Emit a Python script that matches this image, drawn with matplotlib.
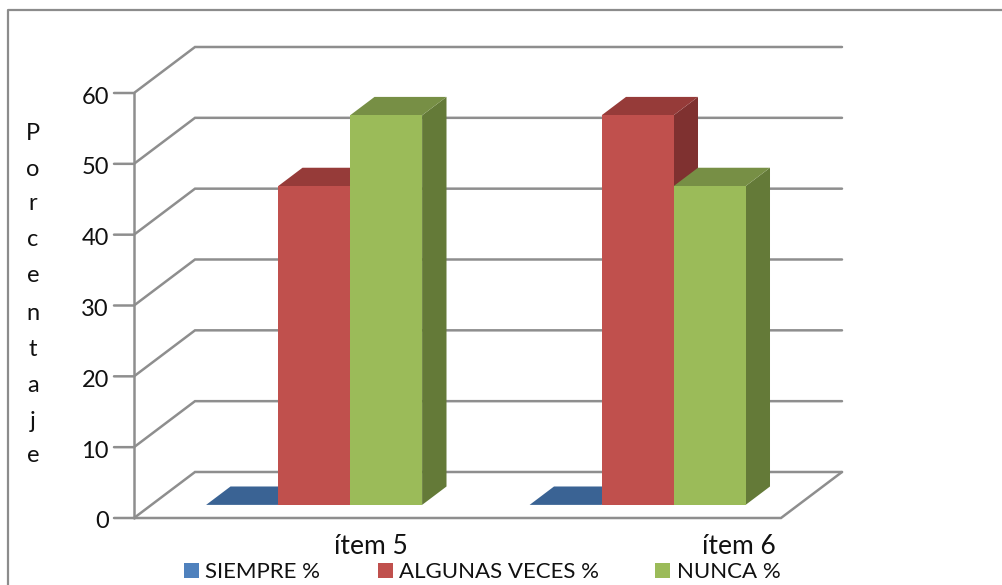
from matplotlib import pyplot as plt
from matplotlib.patches import Polygon, Rectangle

plt.rcParams['font.family'] = ['Lato', 'DejaVu Sans']

# Datos del grafico
items = ['ítem 5', 'ítem 6']
series = ['SIEMPRE %', 'ALGUNAS VECES %', 'NUNCA %']
siempre = [0, 0]
algunas = [45, 55]
nunca = [55, 45]
ticks = [0, 10, 20, 30, 40, 50, 60]
ylabel = 'Porcentaje'

valores = [siempre, algunas, nunca]
front = ['#4F81BD', '#C0504D', '#9BBB59']
top = ['#3A6394', '#963B39', '#778F45']
side = ['#325480', '#7F3130', '#647A38']
gris = '#8E8E8E'

W, H = 1003, 585
fig = plt.figure(figsize=(W / 100, H / 100), dpi=100)

# Marco exterior en pixeles
marco = fig.add_axes([0, 0, 1, 1])
marco.set_xlim(0, W)
marco.set_ylim(H, 0)
marco.axis('off')
marco.plot([8, 8, W], [H, 10, 10], color='#8C8C8C', lw=1.6)

ax = fig.add_axes([134 / W, (H - 518) / H, 647 / W, 425 / H])
ax.set_xlim(0, 2)
ax.set_ylim(0, 60)
ax.axis('off')

# Desplazamiento de la profundidad, en unidades de datos
DX = 61 / 323.5
DY = 46 / 7.083


def p(x, v, d=0):
    return (x + d * DX, v + d * DY)


def linea(pts, lw=1.6):
    ax.plot([q[0] for q in pts], [q[1] for q in pts], color=gris, lw=lw,
            clip_on=False, solid_capstyle='round', solid_joinstyle='miter', zorder=1)


# Paredes
for t in ticks:
    linea([(-20 / 323.5, t), p(0, t), p(0, t, 1), p(2, t, 1)], lw=1.8)
linea([p(0, 0), p(0, 60)], lw=1.8)
linea([p(0, 0), p(2, 0), p(2, 0, 1)], lw=1.8)

# Barras
d0, d1 = 0.285, 0.685
ancho = 72 / 323.5
centros = [0.503, 1.503]
for c, cx in enumerate(centros):
    for s in range(3):
        v = valores[s][c]
        x0 = cx + (s - 1.5) * ancho
        x1 = x0 + ancho
        if v > 0:
            ax.add_patch(Polygon([p(x1, 0, d0), p(x1, 0, d1), p(x1, v, d1), p(x1, v, d0)],
                                 fc=side[s], ec='none', clip_on=False, zorder=2 + s))
            ax.add_patch(Polygon([p(x0, v, d0), p(x1, v, d0), p(x1, v, d1), p(x0, v, d1)],
                                 fc=top[s], ec='none', clip_on=False, zorder=2 + s))
            ax.add_patch(Polygon([p(x0, 0, d0), p(x1, 0, d0), p(x1, v, d0), p(x0, v, d0)],
                                 fc=front[s], ec='none', clip_on=False, zorder=2 + s))
        else:
            ax.add_patch(Polygon([p(x0, 0, d0), p(x1, 0, d0), p(x1, 0, d1), p(x0, 0, d1)],
                                 fc=top[s], ec='none', clip_on=False, zorder=2 + s))

# Textos de los ejes
for t in ticks:
    marco.text(109, H - ax.transData.transform((0, t))[1] + 4, str(t), fontsize=17,
               ha='right', va='center', color='#111111')
for lab, x in zip(items, [371, 739]):
    marco.text(x, 546, lab, fontsize=19, ha='center', va='center', color='#111111')
for ch, y in zip(ylabel, [133, 170, 203, 240, 276, 313, 350, 385, 421, 455]):
    marco.text(33, y, ch, fontsize=17, ha='center', va='center', color='#111111')

# Leyenda
for s, (xc, xt) in enumerate(zip([184, 378, 655], [205, 399, 677])):
    marco.add_patch(Rectangle((xc, 563), 15, 15, fc=front[s], ec='none'))
    marco.text(xt, 572, series[s], fontsize=16, ha='left', va='center', color='#111111')

fig.savefig('out.png', dpi=100)
